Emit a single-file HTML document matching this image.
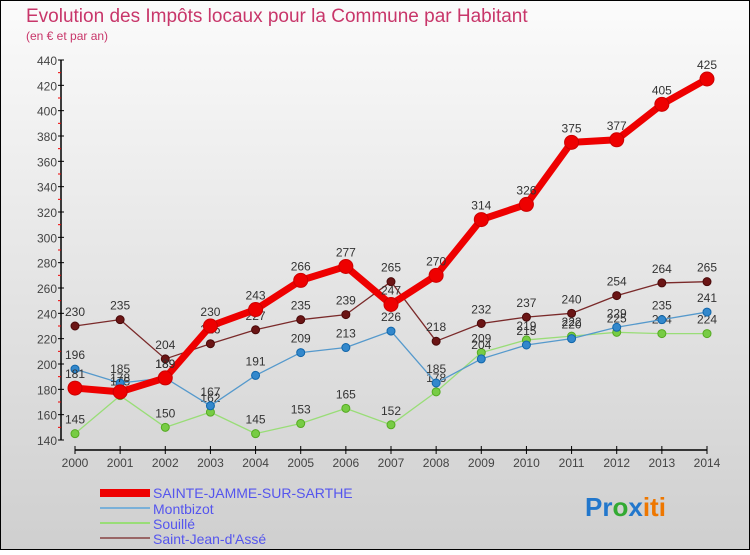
<!DOCTYPE html>
<html><head><meta charset="utf-8">
<style>
html,body{margin:0;padding:0}
body{width:750px;height:550px;overflow:hidden;font-family:"Liberation Sans",sans-serif}
svg text{font-family:"Liberation Sans",sans-serif}
</style></head><body>
<svg id="chart" width="750" height="550" xmlns="http://www.w3.org/2000/svg">
<defs><linearGradient id="bg" x1="0" y1="0" x2="0" y2="1"><stop offset="0" stop-color="#fbfbfb"/><stop offset="1" stop-color="#cfcfcf"/></linearGradient></defs>
<rect x="0" y="0" width="750" height="550" fill="url(#bg)" stroke="#000" stroke-width="2"/>
<text x="26" y="22" font-size="19" fill="#c8366a">Evolution des Impôts locaux pour la Commune par Habitant</text>
<text x="26" y="40" font-size="12" fill="#c8366a">(en € et par an)</text>
<g id="axes"></g>
<g id="series"></g>
<g id="legend">
<rect x="100" y="489" width="50" height="8" fill="#ee0000"/>
<text x="153" y="498" font-size="14" fill="#5555ee">SAINTE-JAMME-SUR-SARTHE</text>
<line x1="100" y1="508" x2="150" y2="508" stroke="#7ab0d8" stroke-width="2"/>
<text x="153" y="514" font-size="14" fill="#5555ee">Montbizot</text>
<line x1="100" y1="523" x2="150" y2="523" stroke="#99dd77" stroke-width="2"/>
<text x="153" y="529" font-size="14" fill="#5555ee">Souillé</text>
<line x1="100" y1="538" x2="150" y2="538" stroke="#996666" stroke-width="2"/>
<text x="153" y="544" font-size="14" fill="#5555ee">Saint-Jean-d'Assé</text>
</g>
<g font-size="26" font-weight="bold">
<text x="585" y="516"><tspan fill="#2277cc">Pr</tspan><tspan fill="#33aa33">o</tspan><tspan fill="#2277cc">x</tspan><tspan fill="#ee7700">iti</tspan></text>
</g>
</svg>
<script>
const years = [2000,2001,2002,2003,2004,2005,2006,2007,2008,2009,2010,2011,2012,2013,2014];
const sainteJamme = [181,178,189,230,243,266,277,247,270,314,326,375,377,405,425];
const montbizot = [196,185,189,167,191,209,213,226,185,204,215,220,229,235,241];
const souille = [145,175,150,162,145,153,165,152,178,209,219,222,225,224,224];
const saintJean = [230,235,204,216,227,235,239,265,218,232,237,240,254,264,265];
const yTicks = [140,160,180,200,220,240,260,280,300,320,340,360,380,400,420,440];

const NS="http://www.w3.org/2000/svg";
const x0=75,x1=707,yMin=140,yMax=440,yTop=60,yBot=440;
function xs(i){return x0+(x1-x0)*i/(years.length-1);}
function ys(v){return yBot-(v-yMin)/(yMax-yMin)*(yBot-yTop);}
function mk(tag,attrs,parent){const e=document.createElementNS(NS,tag);for(const k in attrs)e.setAttribute(k,attrs[k]);parent.appendChild(e);return e;}
const axes=document.getElementById('axes');
let e=mk('line',{x1:61,y1:yTop,x2:61,y2:yBot,stroke:'#000','stroke-width':1.5},axes);


e=mk('line',{x1:x0,y1:450,x2:x1,y2:450,stroke:'#000','stroke-width':1.5},axes);


yTicks.forEach((t,i)=>{
  const y=ys(t);
  let l=mk('line',{x1:58,y1:y,x2:64,y2:y,stroke:'#000'},axes);
  
  
  let tx=mk('text',{x:57,y:y+5,'font-size':12,fill:'#444','text-anchor':'end'},axes);
  tx.textContent=t;
  
  
  if(i<yTicks.length-1){
    let m=mk('line',{x1:58,y1:ys(t+10),x2:61,y2:ys(t+10),stroke:'#e00'},axes);
    
    
  }
});
years.forEach((yr,i)=>{
  const x=xs(i);
  let l=mk('line',{x1:x,y1:446,x2:x,y2:454,stroke:'#000'},axes);
  
  
  let tx=mk('text',{x:x,y:467,'font-size':12,fill:'#444','text-anchor':'middle'},axes);
  tx.textContent=yr;
  
  
});
const sg=document.getElementById('series');
function drawSeries(vals,name,color,w,r,dot,dotStroke){
  const g=mk('g',{},sg);
  
  
  const p=mk('polyline',{points:vals.map((v,i)=>xs(i)+','+ys(v)).join(' '),fill:'none',stroke:color,'stroke-width':w,'stroke-linejoin':'round'},g);
  
  
  vals.forEach((v,i)=>{
    const c=mk('circle',{cx:xs(i),cy:ys(v),r:r,fill:dot,stroke:dotStroke,'stroke-width':1},g);
    
    
    const t=mk('text',{x:xs(i),y:ys(v)-10,'font-size':12,fill:'#333','text-anchor':'middle'},g);
    t.textContent=v;
    
    
  });
}
drawSeries(saintJean,'saint-jean','#7a2a2a',1.3,4,'#6b1515','#4a0a0a');
drawSeries(souille,'souille','#99dd77',1.3,4,'#77cc44','#55aa22');
drawSeries(montbizot,'montbizot','#5599cc',1.3,4,'#3388cc','#1166aa');
drawSeries(sainteJamme,'sainte-jamme','#ee0000',7,7,'#ee0000','#cc0000');
</script>
</body></html>
